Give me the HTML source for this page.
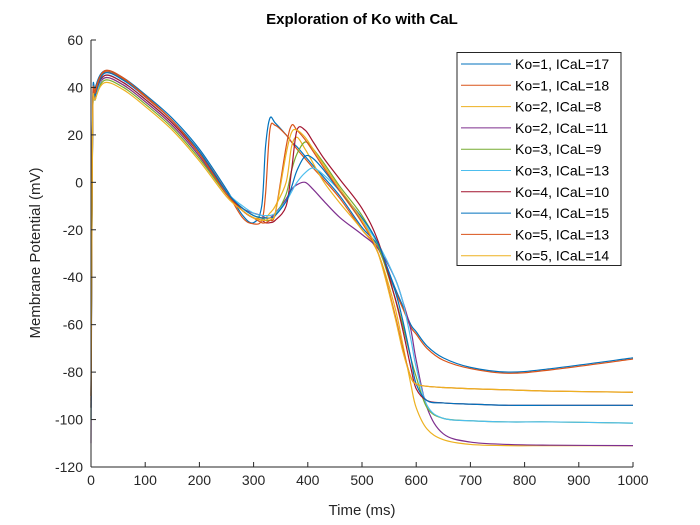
<!DOCTYPE html>
<html><head><meta charset="utf-8"><style>
html,body{margin:0;padding:0;background:#fff;}
svg{display:block;font-family:"Liberation Sans",Arial,sans-serif;}
</style></head><body>
<svg id="chart" width="700" height="525" viewBox="0 0 700 525">
<rect width="700" height="525" fill="#fff"/>
<text x="362" y="24" text-anchor="middle" font-size="15" font-weight="bold" fill="#000">Exploration of Ko with CaL</text>
<g id="series"></g>
<g id="axes"></g>
<text x="362" y="515" text-anchor="middle" font-size="15" fill="#262626">Time (ms)</text>
<text transform="translate(40,253) rotate(-90)" text-anchor="middle" font-size="15" fill="#262626">Membrane Potential (mV)</text>
<g id="legend"></g>
</svg>
<script>
const xTicks=[0,100,200,300,400,500,600,700,800,900,1000];
const yTicks=[60,40,20,0,-20,-40,-60,-80,-100,-120];
const labels=["Ko=1, ICaL=17","Ko=1, ICaL=18","Ko=2, ICaL=8","Ko=2, ICaL=11","Ko=3, ICaL=9","Ko=3, ICaL=13","Ko=4, ICaL=10","Ko=4, ICaL=15","Ko=5, ICaL=13","Ko=5, ICaL=14"];
const colors=["#0072BD","#D95319","#EDB120","#7E2F8E","#77AC30","#4DBEEE","#A2142F","#0072BD","#D95319","#EDB120"];
const times=[0,3,8,25,60,100,150,200,250,280,300,315,322,330,340,360,370,380,395,410,430,460,500,530,560,575,590,600,620,650,700,770,850,1000];
const s1=[-90,30,40,47,44,37,27,14,-3,-14,-17,-10,15,27,25,20,17,15,11,7,2,-6,-19,-27,-44,-52,-60,-63,-69,-74,-78,-80,-78.5,-74];
const s2=[-92,28,39,46.5,43.5,36.5,26,13,-4,-15,-17.5,-16,-5,22,24,20,17,14,10,6,1,-7,-20,-28,-45,-53,-61,-64,-70,-75,-78.5,-80.5,-79,-74.5];
const s3=[-95,25,36,44,41,34,24,11,-5,-12,-15,-15,-15,-13,-10,0,15,19,14,8,0,-9,-20,-30,-52,-68,-85,-95,-104,-108.5,-110.5,-111,-111,-111];
const s4=[-110,25,36,44,41,34,24,11,-5,-11,-13,-14,-15,-15,-13,-7,-3,-1,0,-3,-8,-15,-22,-28,-40,-50,-62,-75,-95,-106,-109.5,-110.5,-110.8,-111];
const s5=[-100,25,35,43,40,33,23,10,-5,-11,-14,-15,-16,-16,-14,-5,5,12,17,14,8,-2,-14,-27,-48,-60,-74,-82,-95,-99.5,-100.5,-101,-101,-101.5];
const s6=[-100,25,35,45,42,35,25,12,-4,-10,-13,-14,-14,-14,-13,-8,-4,0,4,6,3,-4,-16,-26,-40,-50,-66,-78,-94,-99.5,-100.5,-101,-101,-101.5];
const s7=[-95,26,37,45,42,35,25,12,-4,-12,-15,-16,-17,-17,-16,-10,5,22,22,17,10,1,-11,-25,-48,-62,-78,-87,-92,-93,-93.5,-94,-94,-94];
const s8=[-95,26,37,46,43,36,26,13,-4,-11,-14,-15,-15,-15,-14,-8,-2,5,11,10,5,-4,-15,-26,-45,-58,-74,-85,-92,-93,-93.5,-94,-94,-94];
const s9=[-90,28,38,47,44,36,26,12,-5,-12,-15,-17,-17,-16,-13,15,24,22,18,13,6,-4,-17,-30,-55,-70,-82,-85,-86,-86.5,-87,-87.5,-88,-88.5];
const s10=[-90,26,35,42,39,32,22,9,-6,-12,-15,-16,-16,-15,-13,12,21,22,19,14,7,-3,-16,-30,-56,-71,-82,-85,-86,-86.5,-87,-87.5,-88,-88.5];
const series=[s1,s2,s3,s4,s5,s6,s7,s8,s9,s10];

const X0=91,X1=633,Y0=40,Y1=467;
const xs=t=>X0+(t-0)/(1000-0)*(X1-X0);
const ys=v=>Y0+(60-v)/(180)*(Y1-Y0);
const NS="http://www.w3.org/2000/svg";
function mk(tag,attrs,parent){const e=document.createElementNS(NS,tag);for(const k in attrs)e.setAttribute(k,attrs[k]);parent.appendChild(e);return e;}
function pathFor(vals){
  const P=times.map((t,i)=>[xs(t),ys(vals[i])]);
  let d="M"+P[0][0].toFixed(2)+","+P[0][1].toFixed(2);
  for(let i=0;i<P.length-1;i++){
    const p0=P[Math.max(0,i-1)],p1=P[i],p2=P[i+1],p3=P[Math.min(P.length-1,i+2)];
    const c1=[p1[0]+(p2[0]-p0[0])/6,p1[1]+(p2[1]-p0[1])/6];
    const c2=[p2[0]-(p3[0]-p1[0])/6,p2[1]-(p3[1]-p1[1])/6];
    d+=" C"+c1[0].toFixed(2)+","+c1[1].toFixed(2)+" "+c2[0].toFixed(2)+","+c2[1].toFixed(2)+" "+p2[0].toFixed(2)+","+p2[1].toFixed(2);
  }
  return d;
}
const sg=document.getElementById("series");
series.forEach((vals,i)=>{
  const p=mk("path",{d:pathFor(vals),fill:"none",stroke:colors[i],"stroke-width":1.2},sg);
  
  
});
const ag=document.getElementById("axes");
const xl=mk("line",{x1:X0,y1:Y1,x2:X1,y2:Y1,stroke:"#262626","stroke-width":1},ag);


const yl=mk("line",{x1:X0,y1:Y0,x2:X0,y2:Y1,stroke:"#262626","stroke-width":1},ag);


xTicks.forEach(t=>{
  const x=xs(t);
  mk("line",{x1:x,y1:Y1,x2:x,y2:Y1-5,stroke:"#262626"},ag);
  const tx=mk("text",{x:x,y:Y1+18,"text-anchor":"middle","font-size":14,fill:"#262626"},ag);
  tx.textContent=t;
  
  
});
yTicks.forEach(v=>{
  const y=ys(v);
  mk("line",{x1:X0,y1:y,x2:X0+5,y2:y,stroke:"#262626"},ag);
  const tx=mk("text",{x:X0-8,y:y+5,"text-anchor":"end","font-size":14,fill:"#262626"},ag);
  tx.textContent=v;
  
  
});
const lg=document.getElementById("legend");
const box=mk("rect",{x:457,y:52.5,width:164,height:213,fill:"#fff",stroke:"#262626","stroke-width":1},lg);


labels.forEach((lab,i)=>{
  const y=64+i*21.3;
  const g=mk("g",{},lg);
  
  
  mk("line",{x1:461,y1:y,x2:511,y2:y,stroke:colors[i],"stroke-width":1},g);
  const tx=mk("text",{x:515,y:y+5,"font-size":14,fill:"#000"},g);
  tx.textContent=lab;
});
</script>
</body></html>
